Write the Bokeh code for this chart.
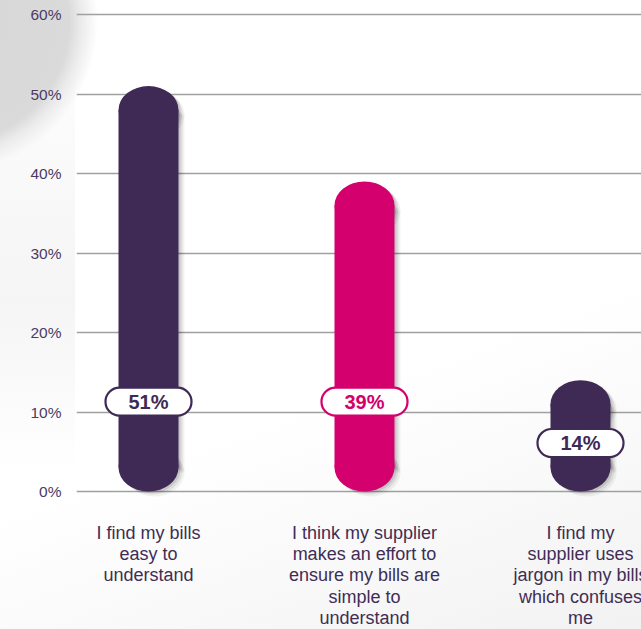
from bokeh.plotting import figure
from bokeh.models import Range1d, FixedTicker, ColumnDataSource
from bokeh.core.properties import value
from bokeh.embed import file_html
from bokeh.resources import INLINE

# ---- data ----
categories = [
    "I find my bills\neasy to\nunderstand",
    "I think my supplier\nmakes an effort to\nensure my bills are\nsimple to\nunderstand",
    "I find my\nsupplier uses\njargon in my bills\nwhich confuses\nme",
]
values = [51, 39, 14]
value_labels = ["51%", "39%", "14%"]
bar_colors = ["#3f2a56", "#d3006e", "#3f2a56"]
y_ticks = [0, 10, 20, 30, 40, 50, 60]
y_tick_labels = ["0%", "10%", "20%", "30%", "40%", "50%", "60%"]

# ---- layout ----
W, H = 641, 629
LEFT = 76           # frame left edge (px)
Y0, Y60 = 491, 14   # pixel rows of 0% and 60%
PX_Y = (Y0 - Y60) / 60.0
PX_X = 216.0        # pixels per category
X0 = 148            # pixel column of first category
x_pos = list(range(len(values)))
bar_w = 60 / PX_X
cap = 24 / PX_Y

p = figure(width=W, height=H,
           x_range=Range1d(-(X0 - LEFT) / PX_X, (W - X0) / PX_X),
           y_range=Range1d(-(H - Y0) / PX_Y, 60 + Y60 / PX_Y),
           output_backend="svg", toolbar_location=None,
           min_border_left=LEFT, min_border_right=0,
           min_border_top=0, min_border_bottom=0,
           x_axis_location=None)
p.background_fill_color = None
p.border_fill_color = None
p.outline_line_color = None
p.styles = {"background": "radial-gradient(circle at -52px 22px, #d7d7d7 0px, #dadada 121px, #ebebeb 133px, rgba(255,255,255,0) 150px), linear-gradient(180deg, rgba(255,255,255,0) 0px, #f5f5f5 300px, rgba(255,255,255,0) 470px) 0 0 / 75px 100% no-repeat, linear-gradient(160deg, #ffffff 60%, #f2f2f2 100%)"}

ticker = FixedTicker(ticks=y_ticks)
p.yaxis.ticker = ticker
p.ygrid.ticker = ticker
p.yaxis.major_label_overrides = {t: l for t, l in zip(y_ticks, y_tick_labels)}
p.yaxis.axis_line_color = None
p.yaxis.major_tick_line_color = None
p.yaxis.minor_tick_line_color = None
p.yaxis.major_tick_in = 0
p.yaxis.major_tick_out = 0
p.yaxis.major_label_standoff = 15
p.yaxis.major_label_text_font = "Liberation Sans"
p.yaxis.major_label_text_font_size = "15.5px"
p.yaxis.major_label_text_color = "#4b3b63"
p.ygrid.grid_line_color = "#a0a0a0"
p.ygrid.grid_line_width = 1.6
p.xgrid.grid_line_color = None


def draw_bars(dx_px, dy_px, colors, alpha):
    xs = [x + dx_px / PX_X for x in x_pos]
    dy = dy_px / PX_Y
    p.vbar(x=xs, width=bar_w, bottom=[cap + dy] * len(values),
           top=[v - cap + dy for v in values],
           fill_color=colors, fill_alpha=alpha, line_color=None)
    p.ellipse(x=xs, y=[v - cap + dy for v in values], width=bar_w, height=2 * cap,
              fill_color=colors, fill_alpha=alpha, line_color=None)
    p.ellipse(x=xs, y=[cap + dy] * len(values), width=bar_w, height=2 * cap,
              fill_color=colors, fill_alpha=alpha, line_color=None)


# soft shadows
draw_bars(6, -5, ["#000000"] * 3, 0.05)
draw_bars(4, -3, ["#000000"] * 3, 0.08)
draw_bars(2, -1.5, ["#000000"] * 3, 0.10)
# bars
draw_bars(0, 0, bar_colors, 1.0)

# value pills
label_y = [11.3 if v > 20 else 6.1 for v in values]
src_lab = ColumnDataSource(dict(x=x_pos, y=label_y, text=value_labels, color=bar_colors))
p.text(x="x", y="y", text="text", source=src_lab,
       text_align="center", text_baseline="middle",
       text_font=value("Liberation Sans"), text_font_style="bold",
       text_font_size="20px", text_color="color",
       background_fill_color="white", border_line_color="color",
       border_line_width=2.2, padding=(23, 23, 3, 3), border_radius=14)

# category labels
p.text(x=x_pos, y=[-3.9] * len(x_pos), text=categories,
       text_align="center", text_baseline="top",
       text_font=value("Liberation Sans"), text_font_size="18px",
       text_color="#3f2d55", text_line_height=1.07)

open("out.html", "w").write(file_html(p, INLINE))
